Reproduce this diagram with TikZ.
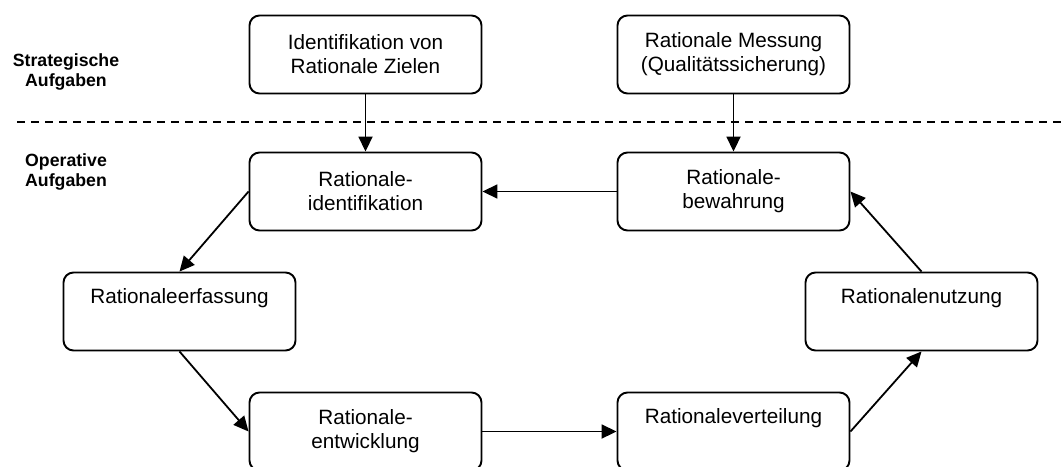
\documentclass[tikz,border=0pt]{standalone}
\usepackage{fontspec}
\setmainfont{Liberation Sans}
\usetikzlibrary{arrows.meta}

\tikzset{
  taskbox/.style={draw, line width=1.9pt, rounded corners=10pt,
    minimum width=232pt, minimum height=78pt, inner sep=0pt, align=center,
    font=\fontsize{20.7}{24}\selectfont},
  phase/.style={inner sep=0pt, font=\fontsize{17.7}{20.5}\selectfont\bfseries},
  flow/.style={line width=1.8pt, -{Triangle[length=15pt,width=14pt]}},
  divider/.style={line width=1.8pt, dash pattern=on 8pt off 6pt}
}

\begin{document}
\begin{tikzpicture}[x=1pt, y=-1pt]
  \useasboundingbox (0,0) rectangle (1064,466);

  % phase labels
  \node[phase, align=center] (strat) at (66,72) {Strategische\\Aufgaben};
  \node[phase, align=left, anchor=west] (oper) at (25,172) {Operative\\Aufgaben};

  % border between strategic and operative level
  \draw[divider] (17,122) -- (1064,122);

  % strategic tasks
  \node[taskbox] (ziele)  at (365.5,54.5) {Identifikation von\\Rationale Zielen};
  \node[taskbox] (mess)   at (733.5,54.5) {Rationale Messung\\(Qualitätssicherung)};

  % operative cycle
  \node[taskbox] (ident)  at (365.5,191.5) {Rationale-\\identifikation};
  \node[taskbox] (bewahr) at (733.5,191.5) {Rationale-\\bewahrung};
  \node[taskbox] (erfass) at (179.5,311.5) {Rationaleerfassung\\\strut};
  \node[taskbox] (nutz)   at (921.5,311.5) {Rationalenutzung\\\strut};
  \node[taskbox] (entw)   at (365.5,431.5) {Rationale-\\entwicklung};
  \node[taskbox] (vert)   at (733.5,431.5) {Rationaleverteilung\\\strut};

  % connectors
  \draw[flow] (ziele.south) -- (ident.north);
  \draw[flow] (mess.south) -- (bewahr.north);
  \draw[flow] (bewahr.west) -- (ident.east);
  \draw[flow] (ident.west) -- (erfass.north);
  \draw[flow] (erfass.south) -- (entw.west);
  \draw[flow] (entw.east) -- (vert.west);
  \draw[flow] (vert.east) -- (nutz.south);
  \draw[flow] (nutz.north) -- (bewahr.east);
\end{tikzpicture}
\end{document}
